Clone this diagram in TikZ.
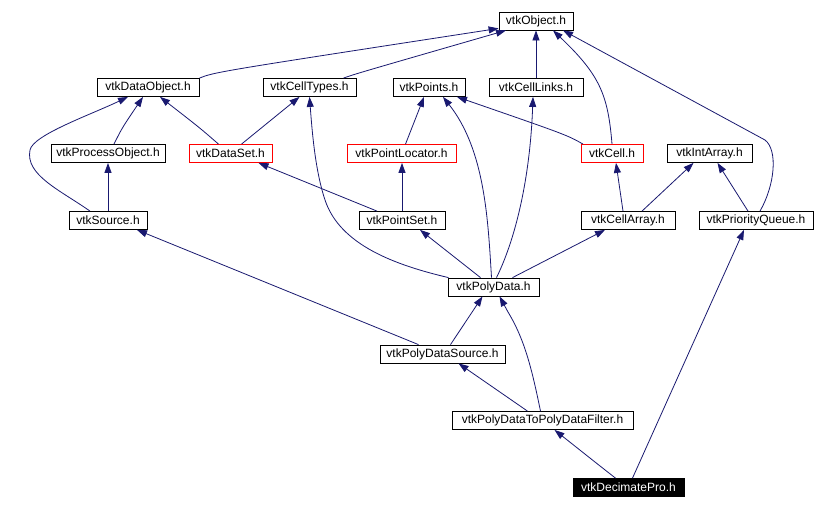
\documentclass[tikz,border=0pt]{standalone}
\usepackage{fontspec}
\setmainfont{Liberation Sans}
\usetikzlibrary{arrows.meta}
\definecolor{edgeblue}{RGB}{25,25,112}
\begin{document}
\begin{tikzpicture}[x=1pt,y=-1pt,
  box/.style={draw=black,line width=0.8pt,fill=white,minimum height=18pt,inner sep=0pt,font=\fontsize{12}{14}\selectfont},
  redbox/.style={box,draw=red},
  blackbox/.style={box,fill=black,text=white},
  dep/.style={draw=edgeblue,line width=0.8pt,-{Triangle[length=10pt,width=7pt]},fill=none},
]
\useasboundingbox[fill=white] (0,0) rectangle (816,509);
% nodes
\node[box,minimum width=74pt] (obj) at (536,21) {vtkObject.h};
\node[box,minimum width=102pt] (dataobj) at (148,87.5) {vtkDataObject.h};
\node[box,minimum width=93pt] (celltypes) at (309.5,87.5) {vtkCellTypes.h};
\node[box,minimum width=72pt] (points) at (429,87.5) {vtkPoints.h};
\node[box,minimum width=94pt] (celllinks) at (536,87.5) {vtkCellLinks.h};
\node[box,minimum width=114pt] (procobj) at (108,153.5) {vtkProcessObject.h};
\node[redbox,minimum width=83pt] (dataset) at (230.5,153.5) {vtkDataSet.h};
\node[redbox,minimum width=109pt] (pointloc) at (401.5,153.5) {vtkPointLocator.h};
\node[redbox,minimum width=62pt] (cell) at (612,153.5) {vtkCell.h};
\node[box,minimum width=85pt] (intarray) at (709.5,153.5) {vtkIntArray.h};
\node[box,minimum width=78pt] (source) at (108,220.5) {vtkSource.h};
\node[box,minimum width=86pt] (pointset) at (402,220.5) {vtkPointSet.h};
\node[box,minimum width=94pt] (cellarray) at (628,220.5) {vtkCellArray.h};
\node[box,minimum width=114pt] (pq) at (756,220.5) {vtkPriorityQueue.h};
\node[box,minimum width=91pt] (polydata) at (493.5,287) {vtkPolyData.h};
\node[box,minimum width=125pt] (pdsource) at (442.5,354) {vtkPolyDataSource.h};
\node[box,minimum width=181pt] (pdfilter) at (542.5,420.5) {vtkPolyDataToPolyDataFilter.h};
\node[blackbox,minimum width=111pt] (decimate) at (628.5,487.5) {vtkDecimatePro.h};
% edges
\draw[dep] (dataobj.north east) .. controls (215,72) .. ([yshift=2pt]obj.south west);
\draw[dep] ([xshift=34pt]celltypes.north) .. controls (355,74) .. ([xshift=-30pt]obj.south);
\draw[dep] (celllinks.north) -- (obj.south);
\draw[dep] (cell.north) .. controls (608,95) and (600,75) .. ([xshift=17pt]obj.south);
\draw[dep] ([xshift=4pt]pq.north) .. controls (775,185) and (778,150) .. (765,140) -- ([xshift=27pt]obj.south);
\draw[dep] ([xshift=6pt]procobj.north) .. controls (122,128) .. ([xshift=-5pt]dataobj.south);
\draw[dep] ([xshift=-18pt]source.north) .. controls (60,190) and (25,175) .. (30,150) .. controls (33,135) and (90,115) .. ([xshift=-20pt]dataobj.south);
\draw[dep] ([xshift=-12pt]dataset.north) .. controls (200,128) .. ([xshift=12pt]dataobj.south);
\draw[dep] ([xshift=11pt]dataset.north) -- ([xshift=-10pt]celltypes.south);
\draw[dep] ([xshift=4pt]pointloc.north) -- ([xshift=-5pt]points.south);
\draw[dep] ([xshift=-29pt]cell.north) .. controls (567,135) .. ([xshift=28pt]points.south);
\draw[dep] (pointset.north) -- (pointset.north |- pointloc.south);
\draw[dep] ([xshift=-25pt]pointset.north) -- ([xshift=28pt]dataset.south);
\draw[dep] (source.north) -- (procobj.south);
\draw[dep] ([xshift=-45pt]polydata.north) .. controls (395,265) and (340,245) .. (325,200) .. controls (315,170) and (312,130) .. (celltypes.south);
\draw[dep] ([xshift=-2pt]polydata.north) .. controls (488,220) and (485,150) .. ([xshift=14pt]points.south);
\draw[dep] ([xshift=3pt]polydata.north) .. controls (515,240) and (530,180) .. ([xshift=-3pt]celllinks.south);
\draw[dep] ([xshift=-13pt]polydata.north) -- ([xshift=18pt]pointset.south);
\draw[dep] ([xshift=19pt]polydata.north) -- ([xshift=-23pt]cellarray.south);
\draw[dep] ([xshift=-5pt]cellarray.north) -- ([xshift=4pt]cell.south);
\draw[dep] ([xshift=14pt]cellarray.north) -- ([xshift=-16pt]intarray.south);
\draw[dep] ([xshift=-8pt]pq.north) -- ([xshift=8pt]intarray.south);
\draw[dep] ([xshift=-24pt]pdsource.north) -- ([xshift=29pt]source.south);
\draw[dep] ([xshift=8pt]pdsource.north) -- ([xshift=-11pt]polydata.south);
\draw[dep] ([xshift=-15pt]pdfilter.north) .. controls (497,390) .. ([xshift=16pt]pdsource.south);
\draw[dep] ([xshift=-2pt]pdfilter.north) .. controls (532,370) and (525,340) .. (508,312) -- ([xshift=6pt]polydata.south);
\draw[dep] ([xshift=-13pt]decimate.north) .. controls (600,466) .. ([xshift=12pt]pdfilter.south);
\draw[dep] ([xshift=4pt]decimate.north) .. controls (690,350) .. ([xshift=-12pt]pq.south);
\end{tikzpicture}
\end{document}
